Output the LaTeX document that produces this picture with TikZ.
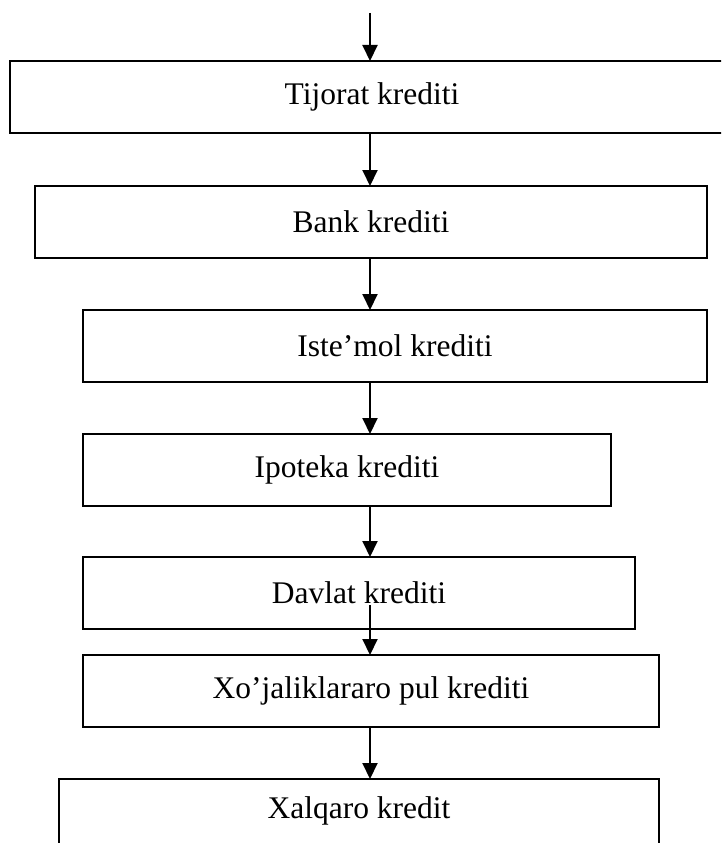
\documentclass[tikz,border=0pt]{standalone}
\usepackage{fontspec}
\setmainfont{Liberation Serif}
\usetikzlibrary{arrows.meta,positioning}

\begin{document}
\begin{tikzpicture}[
  x=1pt, y=-1pt,
  box/.style={
    draw=black, line width=2pt, minimum height=72pt, inner sep=0pt, outer sep=0pt,
    anchor=north west, font=\fontsize{31.5}{37}\selectfont
  },
  arrow/.style={-{Triangle[length=16pt, width=15pt]}, line width=2pt}
]
  \clip (0,0) rectangle (721,843);
  \coordinate (start) at (370,13);
  \node[box, minimum width=724pt] (tijorat) at (10,61) {Tijorat krediti};
  \node[box, minimum width=672pt] (bank) at (35,186) {Bank krediti};
  \node[box, minimum width=624pt] (istemol) at (83,310) {Iste’mol krediti};
  \node[box, minimum width=528pt] (ipoteka) at (83,434) {Ipoteka krediti};
  \node[box, minimum width=552pt] (davlat) at (83,557) {Davlat krediti};
  \node[box, minimum width=576pt] (xojalik) at (83,655) {Xo’jaliklararo pul krediti};
  \node[box, minimum width=600pt, minimum height=80pt] (xalqaro) at (59,779) {};
  \node[font=\fontsize{31.5}{37}\selectfont, anchor=center] (xalqarotext) at (359,811) {Xalqaro kredit};
  \coordinate (davlatout) at (370,605);
  \draw[arrow] (start) -- (tijorat.north -| start);
  \draw[arrow] (tijorat.south -| start) -- (bank.north -| start);
  \draw[arrow] (bank.south -| start) -- (istemol.north -| start);
  \draw[arrow] (istemol.south -| start) -- (ipoteka.north -| start);
  \draw[arrow] (ipoteka.south -| start) -- (davlat.north -| start);
  \draw[arrow] (davlatout) -- (xojalik.north -| start);
  \draw[arrow] (xojalik.south -| start) -- (xalqaro.north -| start);
\end{tikzpicture}
\end{document}
